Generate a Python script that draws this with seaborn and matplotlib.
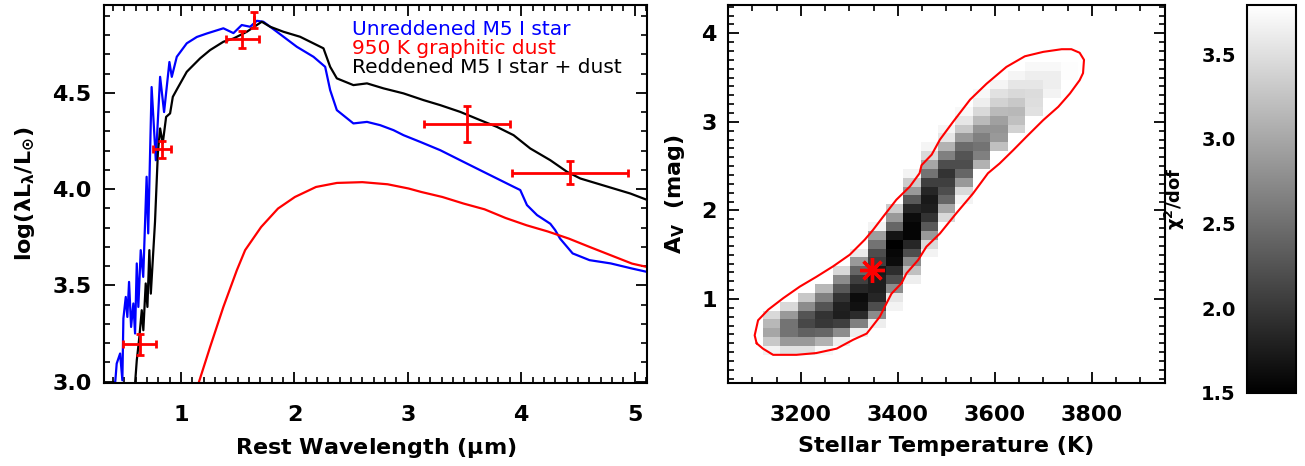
import numpy as np
import matplotlib
matplotlib.use("Agg")
import matplotlib.pyplot as plt
import seaborn as sns
from matplotlib.ticker import MultipleLocator, FormatStrFormatter

# ---------------- left panel data ----------------
blue_wl = [0.418, 0.432, 0.462, 0.482, 0.491, 0.512, 0.526, 0.541, 0.559, 0.579,
           0.594, 0.609, 0.623, 0.644, 0.666, 0.696, 0.710, 0.740, 0.777, 0.815,
           0.850, 0.897, 0.918, 0.962, 1.050, 1.139, 1.227, 1.373, 1.462, 1.535,
           1.609, 1.668, 1.726, 1.845, 2.021, 2.168, 2.271, 2.315, 2.374, 2.520,
           2.640, 2.756, 2.874, 2.962, 3.110, 3.286, 3.462, 3.639, 3.786, 3.933,
           3.992, 4.051, 4.140, 4.257, 4.300, 4.343, 4.454, 4.603, 4.790, 4.974, 5.110]
blue_logL = [2.990, 3.094, 3.146, 3.007, 3.328, 3.440, 3.336, 3.518, 3.284, 3.406,
             3.250, 3.614, 3.388, 3.683, 3.544, 4.064, 3.770, 4.530, 4.150, 4.583,
             4.400, 4.660, 4.583, 4.687, 4.757, 4.790, 4.808, 4.835, 4.810, 4.852,
             4.843, 4.874, 4.869, 4.817, 4.739, 4.687, 4.635, 4.514, 4.410, 4.341,
             4.349, 4.332, 4.306, 4.280, 4.245, 4.202, 4.150, 4.098, 4.055, 4.012,
             3.995, 3.917, 3.865, 3.820, 3.787, 3.743, 3.666, 3.631, 3.614, 3.588, 3.570]

black_wl = [0.594, 0.609, 0.632, 0.653, 0.667, 0.688, 0.703, 0.720, 0.733, 0.770,
            0.795, 0.815, 0.838, 0.868, 0.903, 0.927, 0.968, 1.050, 1.080, 1.168,
            1.256, 1.373, 1.462, 1.580, 1.668, 1.712, 1.786, 1.903, 2.050, 2.256,
            2.315, 2.374, 2.520, 2.640, 2.786, 2.962, 3.139, 3.286, 3.462, 3.639,
            3.786, 3.933, 4.080, 4.257, 4.404, 4.522, 4.669, 4.816, 4.963, 5.110]
black_logL = [2.990, 3.110, 3.232, 3.371, 3.267, 3.510, 3.388, 3.683, 3.457, 3.830,
              4.185, 4.315, 4.237, 4.375, 4.393, 4.479, 4.523, 4.609, 4.627, 4.679,
              4.722, 4.765, 4.782, 4.817, 4.852, 4.869, 4.843, 4.817, 4.791, 4.731,
              4.635, 4.575, 4.540, 4.549, 4.523, 4.497, 4.462, 4.436, 4.401, 4.358,
              4.323, 4.280, 4.211, 4.150, 4.090, 4.055, 4.029, 4.003, 3.977, 3.944]

dust_wl = [1.153, 1.256, 1.373, 1.492, 1.565, 1.706, 1.855, 2.004, 2.190, 2.375,
           2.599, 2.822, 3.007, 3.119, 3.305, 3.491, 3.677, 3.862, 4.048, 4.234,
           4.420, 4.606, 4.792, 4.978, 5.115]
dust_logL = [2.990, 3.180, 3.388, 3.579, 3.683, 3.803, 3.899, 3.959, 4.011, 4.032,
             4.036, 4.025, 4.003, 3.985, 3.959, 3.925, 3.895, 3.850, 3.812, 3.780,
             3.743, 3.699, 3.656, 3.613, 3.595]

phot_wl = [0.636, 0.830, 1.541, 1.644, 3.522, 4.433]
phot_logL = [3.193, 4.206, 4.777, 4.878, 4.336, 4.086]
phot_wl_err = [0.147, 0.081, 0.143, 0.0, 0.383, 0.512]
phot_logL_err = [0.056, 0.043, 0.042, 0.043, 0.093, 0.058]

legend_labels = ["Unreddened M5 I star", "950 K graphitic dust", "Reddened M5 I star + dust"]
legend_colors = ["#0000ff", "#ff0000", "#000000"]

# ---------------- right panel data ----------------
T_centers = [3140, 3176, 3212, 3248, 3284, 3320, 3357, 3393, 3429, 3465,
             3501, 3537, 3573, 3609, 3645, 3681, 3718, 3754]
Av_centers = [0.42, 0.52, 0.62, 0.72, 0.82, 0.92, 1.02, 1.12, 1.22, 1.32, 1.42,
              1.52, 1.62, 1.72, 1.82, 1.92, 2.02, 2.12, 2.22, 2.32, 2.42, 2.52,
              2.62, 2.72, 2.82, 2.92, 3.02, 3.12, 3.22, 3.32, 3.42, 3.52, 3.62]
# first temperature column index with a value, for each Av row
row_start = [0, 0, 0, 0, 0, 1, 2, 3, 4, 4, 5, 5, 6, 6, 6, 7, 7,
             8, 8, 8, 8, 9, 9, 9, 10, 10, 11, 11, 12, 12, 13, 14, 15]
row_chi2 = [
    [3.68, 3.52, 3.52, 3.72],
    [3.29, 2.87, 2.87, 3.10, 3.63],
    [2.99, 2.53, 2.37, 2.42, 2.76, 3.63],
    [3.15, 2.53, 2.14, 2.00, 2.07, 2.65, 3.63],
    [3.45, 2.87, 2.26, 1.96, 1.77, 1.89, 2.76],
    [3.45, 2.76, 2.26, 1.80, 1.66, 2.19, 3.68],
    [3.29, 2.65, 1.96, 1.61, 1.84, 3.56],
    [3.15, 2.30, 1.84, 1.77, 2.76],
    [2.76, 2.07, 1.77, 2.19, 3.63],
    [3.45, 2.42, 1.73, 1.91, 3.22],
    [2.87, 2.07, 1.61, 2.76],
    [3.61, 2.19, 1.57, 2.19, 3.68],
    [2.53, 1.50, 1.84, 3.45],
    [2.92, 1.68, 1.55, 2.87],
    [3.68, 2.42, 1.55, 2.30],
    [2.87, 1.61, 1.96, 3.45],
    [3.33, 1.84, 1.77, 2.99],
    [2.30, 1.73, 2.42, 3.68],
    [2.87, 1.84, 2.19, 3.45],
    [3.33, 2.07, 2.07, 2.87],
    [3.68, 2.53, 1.96, 2.42],
    [2.99, 2.19, 2.19, 3.10],
    [3.45, 2.65, 2.26, 2.65],
    [3.70, 3.10, 2.46, 2.53, 3.22],
    [3.56, 2.87, 2.65, 2.87],
    [3.70, 3.29, 2.83, 2.83, 3.38],
    [3.56, 3.17, 2.94, 3.22],
    [3.72, 3.45, 3.17, 3.15, 3.52],
    [3.63, 3.38, 3.29, 3.49],
    [3.72, 3.52, 3.45, 3.47, 3.68],
    [3.70, 3.56, 3.56, 3.63],
    [3.70, 3.63, 3.63, 3.77],
    [3.72, 3.72, 3.77],
]
contour_T = [3109, 3105, 3112, 3133, 3164, 3198, 3232, 3267, 3301, 3332, 3349, 3370,
             3397, 3425, 3445, 3449, 3470, 3487, 3514, 3549, 3583, 3624, 3662, 3700,
             3738, 3758, 3775, 3784, 3782, 3775, 3755, 3731, 3700, 3665, 3638, 3610,
             3586, 3555, 3521, 3487, 3459, 3442, 3418, 3408, 3387, 3373, 3363, 3336,
             3308, 3274, 3232, 3191, 3143, 3122, 3109]
contour_Av = [0.50, 0.59, 0.76, 0.88, 1.01, 1.14, 1.25, 1.37, 1.50, 1.67, 1.78, 1.93,
              2.12, 2.27, 2.42, 2.51, 2.63, 2.80, 3.00, 3.25, 3.43, 3.62, 3.74, 3.79,
              3.82, 3.82, 3.78, 3.70, 3.55, 3.47, 3.32, 3.17, 3.02, 2.83, 2.68, 2.53,
              2.42, 2.19, 1.97, 1.74, 1.59, 1.44, 1.29, 1.18, 1.06, 0.91, 0.80, 0.61,
              0.54, 0.44, 0.39, 0.37, 0.37, 0.44, 0.50]
best_T = [3346]
best_Av = [1.33]
chi2_min, chi2_max = 1.5, 3.79
cbar_ticks = [1.5, 2.0, 2.5, 3.0, 3.5]

# ---------------- style ----------------
sns.set_theme(style="ticks")
plt.rcParams.update({
    "font.family": ["DejaVu Sans"],
    "font.weight": "bold",
    "axes.labelweight": "bold",
    "text.color": "black",
    "axes.labelcolor": "black",
    "mathtext.fontset": "dejavusans",
    "mathtext.default": "bf",
    "axes.linewidth": 1.5,
    "axes.edgecolor": "black",
    "xtick.direction": "in",
    "ytick.direction": "in",
    "xtick.top": True,
    "ytick.right": True,
    "xtick.color": "black",
    "ytick.color": "black",
    "xtick.labelcolor": "black",
    "ytick.labelcolor": "black",
    "xtick.major.size": 8,
    "ytick.major.size": 8,
    "xtick.minor.size": 4,
    "ytick.minor.size": 4,
    "xtick.major.width": 1.3,
    "ytick.major.width": 1.3,
    "xtick.minor.width": 1.2,
    "ytick.minor.width": 1.2,
})

W, H = 1305, 466
fig = plt.figure(figsize=(W / 100, H / 100), dpi=100)
fig.patch.set_facecolor("white")

def px_axes(l, r, t, b):
    return fig.add_axes([l / W, 1 - b / H, (r - l) / W, (b - t) / H])

# ---------------- left panel ----------------
ax1 = px_axes(104, 647, 5, 383)
ax1.set_facecolor("white")
sns.lineplot(x=blue_wl, y=blue_logL, ax=ax1, color=legend_colors[0], lw=1.6,
             sort=False, estimator=None)
sns.lineplot(x=black_wl, y=black_logL, ax=ax1, color=legend_colors[2], lw=1.6,
             sort=False, estimator=None)
sns.lineplot(x=dust_wl, y=dust_logL, ax=ax1, color=legend_colors[1], lw=1.6,
             sort=False, estimator=None)
ax1.errorbar(phot_wl, phot_logL, xerr=phot_wl_err, yerr=phot_logL_err, fmt="none",
             ecolor="red", elinewidth=2.0, capsize=3, capthick=2.0, zorder=5)
ax1.set_xlim(0.32, 5.11)
ax1.set_ylim(2.993, 4.956)
ax1.xaxis.set_major_locator(MultipleLocator(1))
ax1.xaxis.set_minor_locator(MultipleLocator(0.1))
ax1.yaxis.set_major_locator(MultipleLocator(0.5))
ax1.yaxis.set_minor_locator(MultipleLocator(0.1))
ax1.yaxis.set_major_formatter(FormatStrFormatter("%.1f"))
ax1.tick_params(axis="both", which="both", labelsize=16)
ax1.tick_params(axis="x", which="both", pad=16)
ax1.tick_params(axis="y", which="both", pad=9)
ax1.set_xlabel(r"Rest Wavelength ($\mu$m)", fontsize=16, labelpad=8)
ax1.set_ylabel(r"log($\lambda$L$_{\lambda}$/L$_{\odot}$)", fontsize=16, labelpad=11)
for lab, col, yy in zip(legend_labels, legend_colors, [0.936, 0.886, 0.834]):
    ax1.text(0.456, yy, lab, color=col, transform=ax1.transAxes, fontsize=14.5,
             fontweight="normal", ha="left", va="center")

# ---------------- right panel ----------------
ax2 = px_axes(728, 1165, 5, 383)
ax2.set_facecolor("white")
T = np.array(T_centers, float)
A = np.array(Av_centers, float)
Z = np.full((len(A), len(T)), np.nan)
for j, (s, vals) in enumerate(zip(row_start, row_chi2)):
    Z[j, s:s + len(vals)] = vals
dT = np.diff(T).mean()
dA = np.diff(A).mean()
T_edges = np.concatenate([[T[0] - dT / 2], (T[:-1] + T[1:]) / 2, [T[-1] + dT / 2]])
A_edges = np.concatenate([[A[0] - dA / 2], (A[:-1] + A[1:]) / 2, [A[-1] + dA / 2]])
mesh = ax2.pcolormesh(T_edges, A_edges, np.ma.masked_invalid(Z), cmap="gray",
                      vmin=chi2_min, vmax=chi2_max, shading="flat")
sns.lineplot(x=contour_T, y=contour_Av, ax=ax2, color="red", lw=1.5,
             sort=False, estimator=None)
ax2.plot(best_T, best_Av, linestyle="none", marker=(8, 2, 0), markersize=18,
         markeredgewidth=2.4, color="red", zorder=6)
ax2.set_xlim(3050, 3951)
ax2.set_ylim(0.052, 4.319)
ax2.xaxis.set_major_locator(MultipleLocator(200))
ax2.xaxis.set_minor_locator(MultipleLocator(50))
ax2.yaxis.set_major_locator(MultipleLocator(1))
ax2.yaxis.set_minor_locator(MultipleLocator(0.1))
ax2.tick_params(axis="both", which="both", labelsize=16)
ax2.tick_params(axis="x", which="both", pad=16)
ax2.tick_params(axis="y", which="both", pad=8)
ax2.set_xlabel("Stellar Temperature (K)", fontsize=16, labelpad=8)
ax2.set_ylabel(r"A$_V$  (mag)", fontsize=16, labelpad=10)

# ---------------- colour bar ----------------
cax = px_axes(1247, 1296, 5, 393)
cb = fig.colorbar(mesh, cax=cax)
cb.outline.set_linewidth(1.5)
cax.yaxis.set_ticks_position("left")
cax.yaxis.set_label_position("left")
cb.set_ticks(cbar_ticks)
cax.yaxis.set_major_formatter(FormatStrFormatter("%.1f"))
cax.yaxis.set_minor_locator(MultipleLocator(0.25))
cax.tick_params(which="major", direction="in", length=11, width=1.2, color="#444444",
                labelsize=14, pad=8, left=True, right=False)
cax.tick_params(which="minor", direction="in", length=5, width=1.0, color="#444444",
                left=True, right=False)
cb.set_label(r"$\chi^2$/dof", fontsize=13, labelpad=10)

fig.savefig("out.png", dpi=100, facecolor="white")
